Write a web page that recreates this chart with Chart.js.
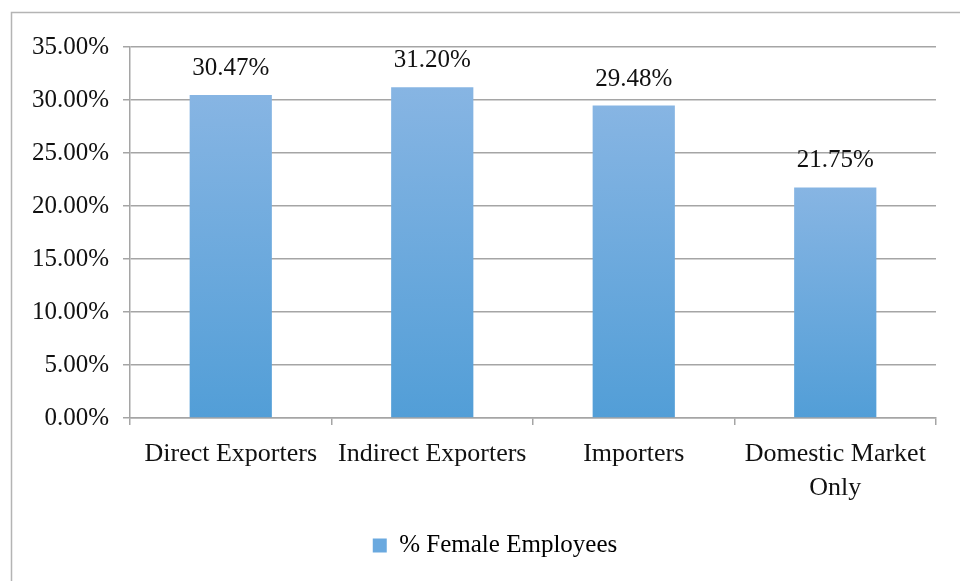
<!DOCTYPE html>
<html>
<head>
<meta charset="utf-8">
<script src="https://cdn.jsdelivr.net/npm/chart.js@4/dist/chart.umd.min.js"></script>
<style>
  body { margin: 0; background: #fff; }
</style>
</head>
<body>
<canvas id="femaleChart" width="960" height="581"></canvas>
<script>
const categories = ['Direct Exporters', 'Indirect Exporters', 'Importers', ['Domestic Market', 'Only']];
const femaleShare = [30.47, 31.20, 29.48, 21.75];
const yTicks = [0, 5, 10, 15, 20, 25, 30, 35];

const fontFamily = '"Liberation Serif", "Times New Roman", serif';

// outer frame like the Excel chart area border
const frame = {
    id: 'frame',
    beforeDraw(chart) {
        const ctx = chart.ctx;
        ctx.save();
        ctx.fillStyle = '#fff';
        ctx.fillRect(0, 0, chart.width, chart.height);
        ctx.strokeStyle = '#b4b4b4';
        ctx.lineWidth = 1.5;
        ctx.strokeRect(11.5, 12.5, 1000, 1000);
        ctx.restore();
    }
};

// legend in the original sits a little right of centre
const legendShift = {
    id: 'legendShift',
    afterLayout(chart) {
        if (chart.legend) {
            chart.legend.left += 27;
            chart.legend.right += 27;
        }
    }
};

// value labels above each bar
const valueLabels = {
    id: 'valueLabels',
    afterDatasetsDraw(chart) {
        const ctx = chart.ctx;
        const meta = chart.getDatasetMeta(0);
        ctx.save();
        ctx.font = '25px ' + fontFamily;
        ctx.fillStyle = '#111';
        ctx.textAlign = 'center';
        ctx.textBaseline = 'alphabetic';
        meta.data.forEach((bar, i) => {
            ctx.fillText(femaleShare[i].toFixed(2) + '%', bar.x, bar.y - 20);
        });
        ctx.restore();
    }
};

function barGradient(context) {
    const chart = context.chart;
    const area = chart.chartArea;
    if (!area || context.raw === undefined) return '#6aa9df';
    const top = chart.scales.y.getPixelForValue(context.raw);
    const g = chart.ctx.createLinearGradient(0, top, 0, area.bottom);
    g.addColorStop(0, '#87b5e3');
    g.addColorStop(1, '#529ed7');
    return g;
}

new Chart(document.getElementById('femaleChart').getContext('2d'), {
    type: 'bar',
    data: {
        labels: categories,
        datasets: [{
            label: '% Female Employees',
            data: femaleShare,
            backgroundColor: barGradient,
            categoryPercentage: 1,
            barPercentage: 0.408
        }]
    },
    options: {
        responsive: false,
        animation: false,
        layout: { padding: { top: 47, right: 24, left: 0, bottom: 13 } },
        plugins: {
            tooltip: { enabled: false },
            legend: {
                position: 'bottom',
                labels: {
                    boxWidth: 14,
                    boxHeight: 14,
                    padding: 10,
                    color: '#111',
                    font: { family: fontFamily, size: 25 },
                    generateLabels: (chart) => [{
                        text: '% Female Employees',
                        fillStyle: '#6aa9df',
                        strokeStyle: '#6aa9df',
                        lineWidth: 0,
                        datasetIndex: 0
                    }]
                }
            }
        },
        scales: {
            x: {
                afterFit(scale) { scale.height = 105; },
                border: { color: '#a5a5a5', width: 1.5 },
                grid: {
                    offset: true,
                    drawOnChartArea: false,
                    drawTicks: true,
                    tickLength: 7,
                    color: '#a5a5a5',
                    lineWidth: 1.5
                },
                ticks: {
                    color: '#111',
                    padding: 12,
                    maxRotation: 0,
                    autoSkip: false,
                    font: { family: fontFamily, size: 26, lineHeight: 1.32 }
                }
            },
            y: {
                min: 0,
                max: 35,
                afterFit(scale) { scale.width = 130; },
                afterBuildTicks(scale) { scale.ticks = yTicks.map(v => ({ value: v })); },
                border: { color: '#a5a5a5', width: 1.5 },
                grid: {
                    color: '#a5a5a5',
                    lineWidth: 1.5,
                    tickLength: 7
                },
                ticks: {
                    color: '#111',
                    padding: 14,
                    font: { family: fontFamily, size: 25 },
                    callback: (v) => Number(v).toFixed(2) + '%'
                }
            }
        }
    },
    plugins: [frame, legendShift, valueLabels]
});
</script>
</body>
</html>
